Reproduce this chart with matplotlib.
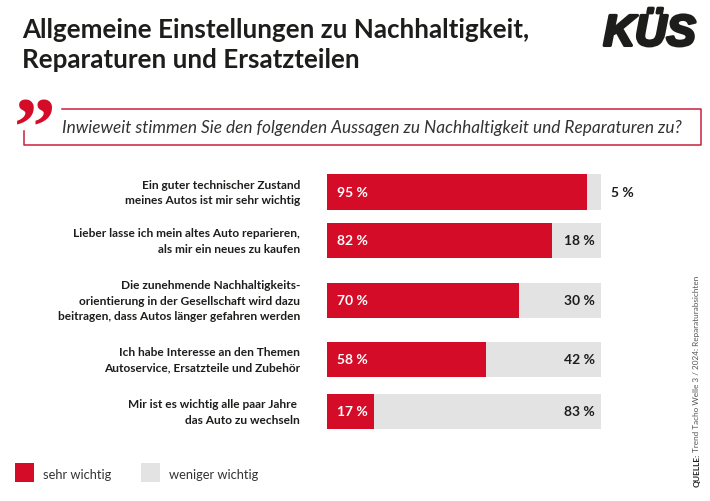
import matplotlib
matplotlib.use("Agg")
import matplotlib.pyplot as plt
import matplotlib.patheffects as pe
from matplotlib.patches import Rectangle

categories = [
    "Ein guter technischer Zustand\nmeines Autos ist mir sehr wichtig",
    "Lieber lasse ich mein altes Auto reparieren,\nals mir ein neues zu kaufen",
    "Die zunehmende Nachhaltigkeits-\norientierung in der Gesellschaft wird dazu\nbeitragen, dass Autos länger gefahren werden",
    "Ich habe Interesse an den Themen\nAutoservice, Ersatzteile und Zubehör",
    "Mir ist es wichtig alle paar Jahre \ndas Auto zu wechseln",
]
sehr_wichtig = [95, 82, 70, 58, 17]
weniger_wichtig = [5, 18, 30, 42, 83]
series_names = ["sehr wichtig", "weniger wichtig"]
title = "Allgemeine Einstellungen zu Nachhaltigkeit,\nReparaturen und Ersatzteilen"
question = "Inwieweit stimmen Sie den folgenden Aussagen zu Nachhaltigkeit und Reparaturen zu?"
source_bold = "QUELLE:"
source = "Trend Tacho Welle 3 / 2024: Reparaturabsichten"

RED = "#d50c28"
GREY = "#e3e3e3"
DARK = "#1d1d1b"
W, H = 710, 502
plt.rcParams["font.family"] = ["Lato", "DejaVu Sans"]
fig = plt.figure(figsize=(W / 100, H / 100), dpi=100, facecolor="white")

# page layer in pixel coordinates
page = fig.add_axes([0, 0, 1, 1])
page.set_xlim(0, W)
page.set_ylim(H, 0)
page.axis("off")

page.text(22, 45, title, fontsize=18.7, fontweight="bold", color=DARK,
          va="center", ha="left", linespacing=1.29)
page.text(649.5, 35, "KÜS", fontsize=31.5, fontweight="bold", style="italic",
          family="Liberation Sans", color=DARK, va="center", ha="center",
          path_effects=[pe.withStroke(linewidth=2.2, foreground=DARK)])
page.text(35, 135, "”", fontsize=60, fontweight="bold", family="Liberation Serif",
          color=RED, va="center", ha="center")
page.plot([62, 701, 701, 24, 24], [110, 110, 146, 146, 132], color="#c9203a", lw=1.1)
page.text(62, 128, question, fontsize=12.45, style="italic", color="#333333",
          va="center", ha="left")

# bars
bar_top, bar_bottom = 175, 430
ax = fig.add_axes([327 / W, 1 - bar_bottom / H, 274 / W, (bar_bottom - bar_top) / H])
centers = [192.9, 241.4, 301.4, 360.4, 412.4]
ax.set_xlim(0, 100)
ax.set_ylim(bar_bottom, bar_top)
ax.axis("off")
ax.barh(centers, sehr_wichtig, height=35.5, color=RED, linewidth=0)
ax.barh(centers, weniger_wichtig, left=sehr_wichtig, height=35.5, color=GREY, linewidth=0)

for y, cat, a, b in zip(centers, categories, sehr_wichtig, weniger_wichtig):
    page.text(300, y, cat, fontsize=8.6, fontweight="bold", color=DARK, ha="right",
              va="center", linespacing=1.5)
    ax.text(3.6, y, f"{a} %", color="white", fontsize=10, fontweight="bold",
            va="center", ha="left")
    if b < 10:
        ax.text(107.7, y, f"{b} %", color=DARK, fontsize=10, fontweight="bold",
                va="center", ha="center")
    else:
        ax.text(92, y, f"{b} %", color=DARK, fontsize=10, fontweight="bold",
                va="center", ha="center")

# legend
page.add_patch(Rectangle((15, 464), 19, 19, fc=RED, ec="none"))
page.add_patch(Rectangle((141, 464), 19, 19, fc=GREY, ec="none"))
page.text(43, 475, series_names[0], fontsize=9.3, color="#333333", va="center", ha="left")
page.text(169, 475, series_names[1], fontsize=9.3, color="#333333", va="center", ha="left")

# source
page.text(697, 487, source_bold, fontsize=6.0, fontweight="bold", color=DARK,
          rotation=90, va="bottom", ha="center")
page.text(697, 452, source, fontsize=5.85, color="#555555", rotation=90,
          va="bottom", ha="center")

fig.savefig("out.png", dpi=100)
